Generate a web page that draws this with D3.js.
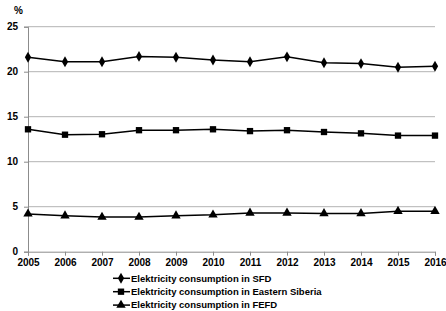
<!DOCTYPE html>
<html>
<head>
<meta charset="utf-8">
<script src="https://cdn.jsdelivr.net/npm/d3@7"></script>
<style>
body{margin:0;background:#fff;}
text{font-family:"Liberation Sans",Arial,sans-serif;font-weight:bold;font-size:10px;fill:#000;}
.legend text{font-size:9.5px;}
</style>
</head>
<body>
<div id="chart"></div>
<script>
const years = [2005,2006,2007,2008,2009,2010,2011,2012,2013,2014,2015,2016];
const sfd = [21.6,21.1,21.1,21.7,21.6,21.3,21.1,21.65,21.0,20.9,20.5,20.6];
const eastSiberia = [13.6,13.0,13.05,13.5,13.5,13.6,13.4,13.5,13.3,13.15,12.9,12.9];
const fefd = [4.2,4.0,3.85,3.85,4.0,4.1,4.3,4.3,4.25,4.25,4.5,4.5];
const yTicks = [0,5,10,15,20,25];
const seriesNames = ["Elektricity consumption in SFD","Elektricity consumption in Eastern Siberia","Elektricity consumption in FEFD"];

var W = 446, H = 311;
var svg = d3.select("#chart").append("svg").attr("width",W).attr("height",H);

var x = d3.scaleLinear().domain([2005,2016]).range([28,435]);
var y = d3.scaleLinear().domain([0,25]).range([251.7,26.7]);

// gridlines
svg.append("g").selectAll("line").data(yTicks.slice(1)).enter().append("line")
	.attr("x1",28).attr("x2",435)
	.attr("y1",d=>y(d)).attr("y2",d=>y(d))
	.attr("stroke","#b3b3b3").attr("stroke-width",1);

// y axis
var yAxis = svg.append("g").attr("transform","translate(28,0)")
	.call(d3.axisLeft(y).tickValues(yTicks).tickSize(4).tickPadding(6));
yAxis.select(".domain").attr("stroke","#8c8c8c");
yAxis.selectAll(".tick line").attr("stroke","#8c8c8c");
yAxis.selectAll("text").attr("font-size",null).attr("font-family",null);

// x axis
var xAxis = svg.append("g").attr("transform","translate(0,251.7)")
	.call(d3.axisBottom(x).tickValues(years).tickFormat(d3.format("d")).tickSize(4).tickPadding(3));
xAxis.select(".domain").attr("stroke","#8c8c8c");
xAxis.selectAll(".tick line").attr("stroke","#8c8c8c");
xAxis.selectAll("text").attr("font-size",null).attr("font-family",null);

svg.append("text").attr("x",14).attr("y",14).text("%");

var line = d3.line().x((d,i)=>x(years[i])).y(d=>y(d));

var diamond = d3.symbol().type(d3.symbolDiamond).size(34);
var square = d3.symbol().type(d3.symbolSquare).size(40);
var triangle = d3.symbol().type(d3.symbolTriangle).size(38);
var symbols = [diamond,square,triangle];
var allSeries = [sfd,eastSiberia,fefd];

allSeries.forEach(function(s,k){
	svg.append("path").datum(s).attr("d",line)
		.attr("fill","none").attr("stroke","#000").attr("stroke-width",1.5);
	svg.append("g").selectAll("path").data(s).enter().append("path")
		.attr("d",symbols[k])
		.attr("transform",(d,i)=>"translate("+x(years[i])+","+y(d)+")")
		.attr("fill","#000");
});

// legend
var legend = svg.append("g").attr("class","legend");
seriesNames.forEach(function(name,k){
	var ly = 278.3 + k*13.4;
	legend.append("line").attr("x1",113).attr("x2",130).attr("y1",ly).attr("y2",ly)
		.attr("stroke","#000").attr("stroke-width",1.5);
	legend.append("path").attr("d",symbols[k])
		.attr("transform","translate(121,"+ly+")").attr("fill","#000");
	legend.append("text").attr("x",131).attr("y",ly).attr("dy","0.35em").text(name);
});
</script>
</body>
</html>
